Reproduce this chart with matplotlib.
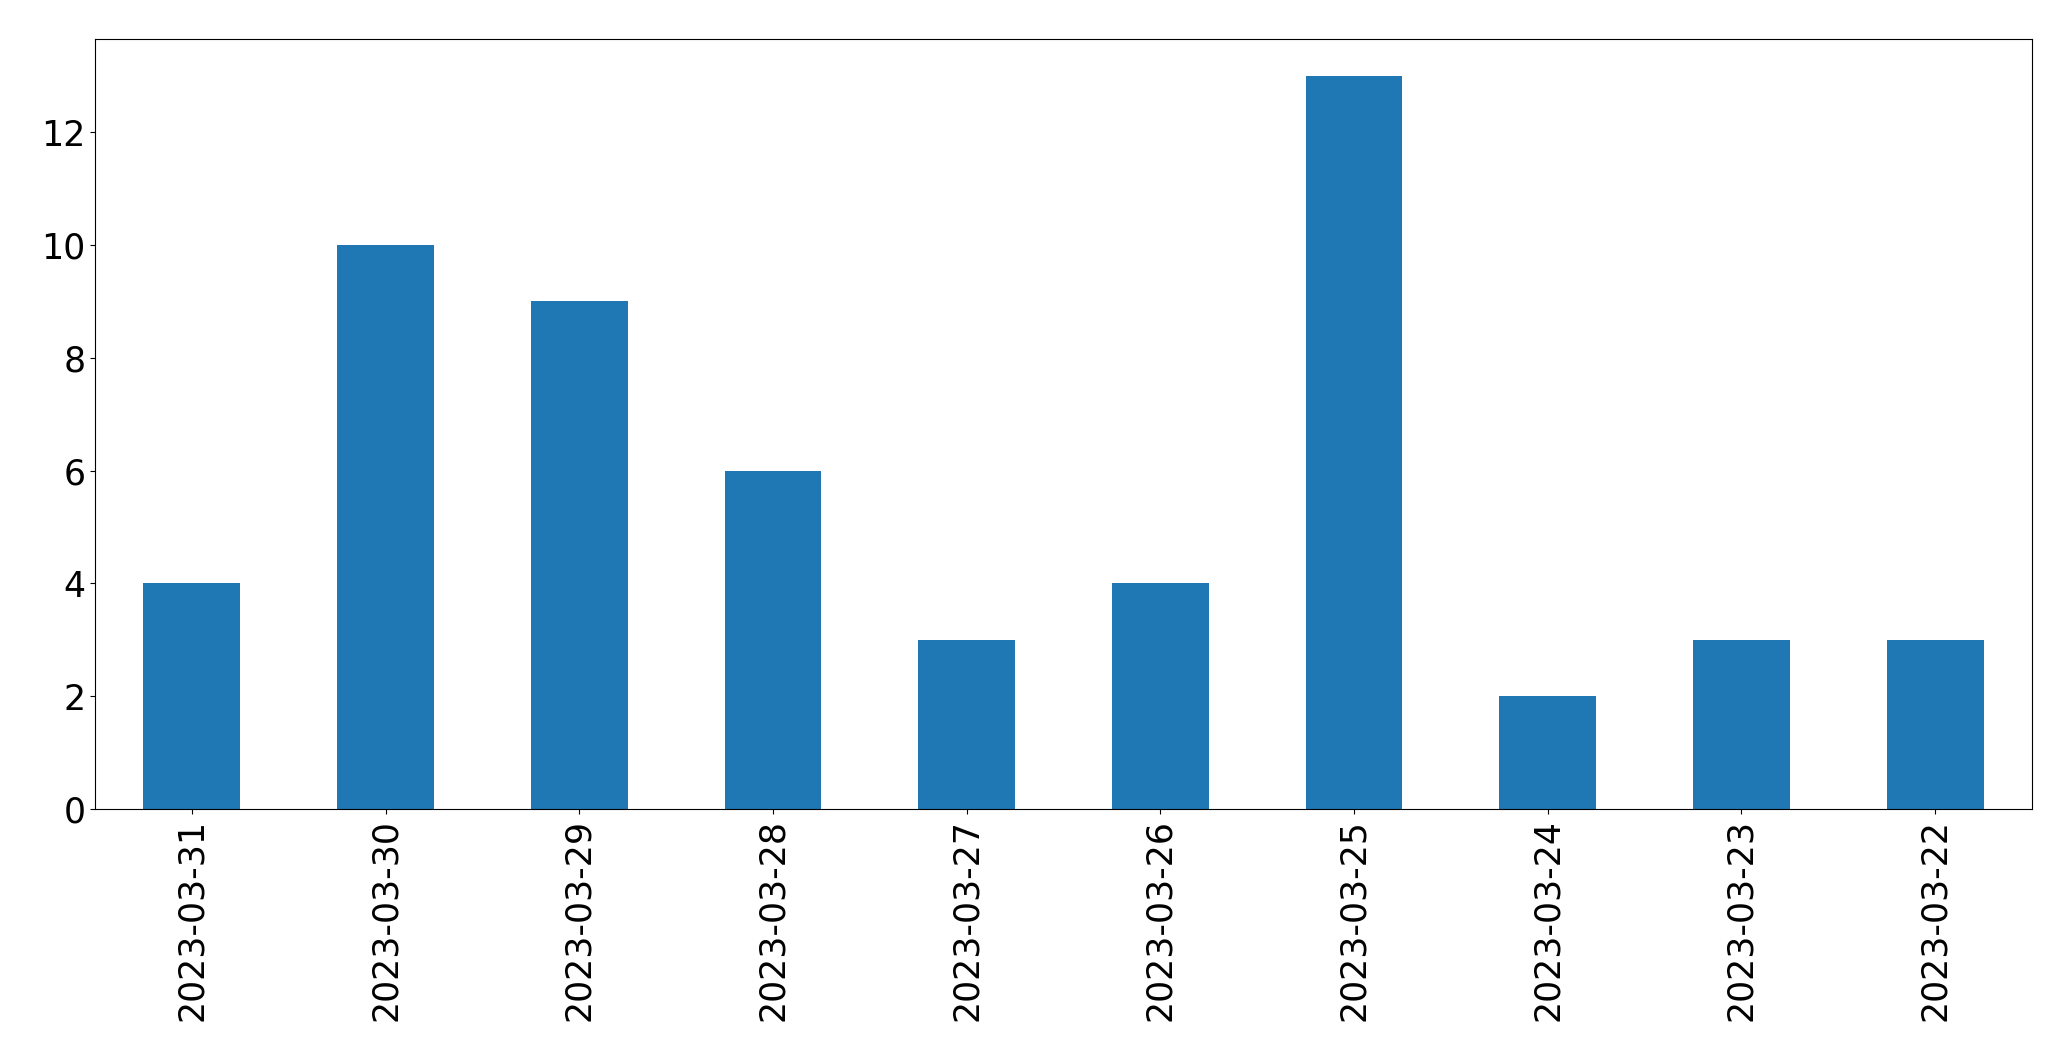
import matplotlib
matplotlib.use("Agg")
import matplotlib.pyplot as plt

dates = ["2023-03-31", "2023-03-30", "2023-03-29", "2023-03-28", "2023-03-27",
         "2023-03-26", "2023-03-25", "2023-03-24", "2023-03-23", "2023-03-22"]
counts = [4, 10, 9, 6, 3, 4, 13, 2, 3, 3]

fig = plt.figure(figsize=(20.71, 10.61), dpi=100)
ax = fig.add_axes([95/2071, 1-809/1061, (2032-95)/2071, (809-39)/1061])
x = list(range(len(dates)))
ax.bar(x, counts, width=0.5, color="#1f77b4")
ax.set_xlim(-0.5, len(dates) - 0.5)
ax.set_ylim(0, max(counts) * 1.05)
ax.set_xticks(x)
ax.set_xticklabels(dates, rotation=90)
ax.tick_params(axis="both", labelsize=25)
fig.savefig("out.png", dpi=100)
